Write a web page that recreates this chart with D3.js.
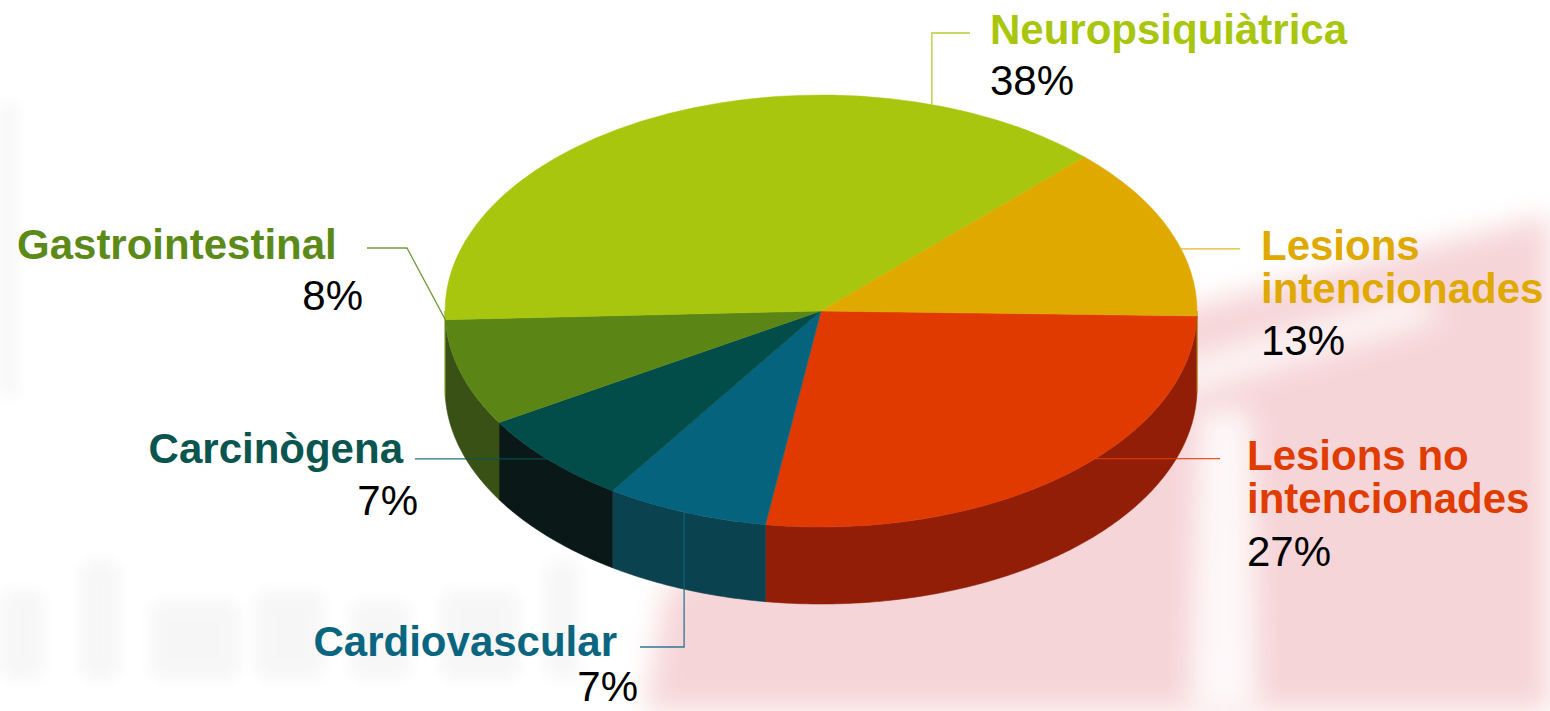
<!DOCTYPE html>
<html>
<head>
<meta charset="utf-8">
<script src="https://cdn.jsdelivr.net/npm/d3@7"></script>
<style>
  body { margin: 0; background: #fff; }
  svg { display: block; }
  text { font-family: "Liberation Sans", Arial, sans-serif; }
</style>
</head>
<body>
<svg id="chart"></svg>
<script>
// data
var categories = ["Lesions no intencionades", "Cardiovascular", "Carcinògena", "Gastrointestinal", "Neuropsiquiàtrica", "Lesions intencionades"];
var values = [27, 7, 7, 8, 38, 13];
var nameLines = [["Lesions no", "intencionades"], ["Cardiovascular"], ["Carcinògena"], ["Gastrointestinal"], ["Neuropsiquiàtrica"], ["Lesions", "intencionades"]];

// colours
var topColors = ["#e03a00", "#05637e", "#024c49", "#5b8616", "#a8c60d", "#e0a900"];
var sideColors = ["#921e08", "#0b4250", "#0a1917", "#3a5116", "#6f8a0a", "#9a7300"];
var labelColors = ["#e03c00", "#0a6680", "#0a5550", "#5b8a18", "#a8c60d", "#e0a900"];

var screen = {width: 1550, height: 711};
var pie3d = {cx: 821, cy: 311, rx: 376, ry: 216, depth: 77};

// label layout: text position, anchor, where the leader leaves the slice (fraction) and its bends
var labelLayout = [
  {x: 1247, y: 470, anchor: "start", px: 1247, py: 566, frac: 0.43, bends: [[1220, null]]},
  {x: 617, y: 656, anchor: "end", px: 638, py: 701, frac: 0.51, bends: [[null, 647], [640, 647]]},
  {x: 403, y: 463, anchor: "end", px: 418, py: 515, frac: 0.52, bends: [[415, null]]},
  {x: 17, y: 259, anchor: "start", px: 363, py: 310, frac: 1.0, bends: [[407, 248], [367, 248]], pAnchor: "end"},
  {x: 990, y: 44, anchor: "start", px: 990, py: 95, frac: 0.80, bends: [[null, 33], [970, 33]]},
  {x: 1261, y: 260, anchor: "start", px: 1261, py: 355, frac: 0.615, bends: [[1240, null]]}
];

var svg = d3.select("#chart")
  .attr("width", screen.width)
  .attr("height", screen.height);

// faded watermark behind the chart
var defs = svg.append("defs");
defs.append("filter").attr("id", "blurBig").attr("x", "-30%").attr("y", "-30%").attr("width", "160%").attr("height", "160%")
  .append("feGaussianBlur").attr("stdDeviation", 14);
defs.append("filter").attr("id", "blurSmall").attr("x", "-30%").attr("y", "-30%").attr("width", "160%").attr("height", "160%")
  .append("feGaussianBlur").attr("stdDeviation", 8);

var bg = svg.append("g").attr("id", "watermark");
bg.append("path")
  .attr("d", "M1140,320 L1550,215 L1550,711 L645,711 L665,590 Z")
  .attr("fill", "#f6d5d8")
  .attr("filter", "url(#blurBig)");
bg.append("path")
  .attr("d", "M1150,370 L1420,290 L1440,320 L1170,400 Z")
  .attr("fill", "#ffffff").attr("opacity", 0.75)
  .attr("filter", "url(#blurBig)");
bg.append("path")
  .attr("d", "M1200,410 L1250,410 L1258,711 L1190,711 Z")
  .attr("fill", "#ffffff").attr("opacity", 0.85)
  .attr("filter", "url(#blurBig)");
// ghost letter strokes, bottom left
var ghost = [[0, 590, 45, 90], [80, 560, 40, 120], [150, 600, 90, 80], [255, 590, 70, 90], [350, 600, 60, 80], [440, 590, 80, 90], [545, 560, 35, 120], [0, 100, 18, 300]];
bg.selectAll("rect.ghost")
  .data(ghost)
  .enter()
  .append("rect")
  .attr("class", "ghost")
  .attr("x", function(d) { return d[0]; })
  .attr("y", function(d) { return d[1]; })
  .attr("width", function(d) { return d[2]; })
  .attr("height", function(d) { return d[3]; })
  .attr("rx", 12)
  .attr("fill", "#000")
  .attr("opacity", 0.03)
  .attr("filter", "url(#blurSmall)");

// pie angles
var startAngle = (90 + 1.3) * Math.PI / 180;
var pie = d3.pie().sort(null).value(function(d) { return d; })
  .startAngle(startAngle).endAngle(startAngle + 2 * Math.PI);
var arcs = pie(values);

var ex = function(a) { return pie3d.cx + pie3d.rx * Math.sin(a); };
var ey = function(a) { return pie3d.cy - pie3d.ry * Math.cos(a); };

// outer walls (only the front half is visible)
var walls = svg.append("g").attr("id", "walls");
var line = d3.line();
arcs.forEach(function(d, i) {
  [[Math.PI / 2, 1.5 * Math.PI], [2.5 * Math.PI, 3.5 * Math.PI]].forEach(function(win) {
    var a0 = Math.max(d.startAngle, win[0]);
    var a1 = Math.min(d.endAngle, win[1]);
    if (a1 <= a0) return;
    var n = Math.max(2, Math.ceil((a1 - a0) / 0.01));
    var ang = d3.range(n + 1).map(function(k) { return a0 + (a1 - a0) * k / n; });
    var pts = ang.map(function(a) { return [ex(a), ey(a)]; })
      .concat(ang.slice().reverse().map(function(a) { return [ex(a), ey(a) + pie3d.depth]; }));
    walls.append("path")
      .attr("d", line(pts) + "Z")
      .attr("fill", sideColors[i])
      .attr("stroke", sideColors[i])
      .attr("stroke-width", 0.6);
  });
});

// top face
var arc = d3.arc().innerRadius(0).outerRadius(pie3d.rx);
svg.append("g")
  .attr("id", "top")
  .attr("transform", "translate(" + pie3d.cx + "," + pie3d.cy + ") scale(1," + (pie3d.ry / pie3d.rx) + ")")
  .selectAll("path")
  .data(arcs)
  .enter()
  .append("path")
  .attr("d", arc)
  .attr("fill", function(d, i) { return topColors[i]; })
  .attr("stroke", function(d, i) { return topColors[i]; })
  .attr("stroke-width", 0.5)
  .attr("vector-effect", "non-scaling-stroke");

// leader lines
var leaders = svg.append("g").attr("id", "leaders");
arcs.forEach(function(d, i) {
  var L = labelLayout[i];
  var a = d.startAngle + (d.endAngle - d.startAngle) * L.frac;
  var pts = [[ex(a), ey(a)]];
  L.bends.forEach(function(b) {
    var prev = pts[pts.length - 1];
    pts.push([b[0] === null ? prev[0] : b[0], b[1] === null ? prev[1] : b[1]]);
  });
  leaders.append("path")
    .attr("d", line(pts))
    .attr("fill", "none")
    .attr("stroke", labelColors[i])
    .attr("stroke-opacity", 0.85)
    .attr("stroke-width", 1.3);
});

// labels
var labels = svg.append("g").attr("id", "labels");
categories.forEach(function(c, i) {
  var L = labelLayout[i];
  nameLines[i].forEach(function(t, k) {
    labels.append("text")
      .attr("x", L.x)
      .attr("y", L.y + k * 43)
      .attr("text-anchor", L.anchor)
      .attr("font-size", 42)
      .attr("font-weight", "bold")
      .attr("fill", labelColors[i])
      .text(t);
  });
  labels.append("text")
    .attr("x", L.px)
    .attr("y", L.py)
    .attr("text-anchor", L.pAnchor || L.anchor)
    .attr("font-size", 42)
    .attr("fill", "#000")
    .text(values[i] + "%");
});
</script>
</body>
</html>
